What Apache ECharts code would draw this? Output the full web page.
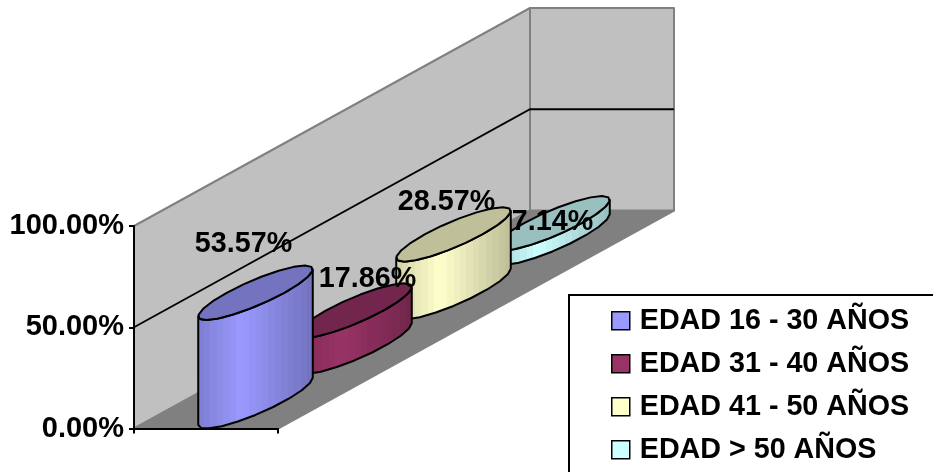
<!DOCTYPE html>
<html>
<head>
<meta charset="utf-8">
<style>html,body{margin:0;padding:0;background:#fff;overflow:hidden}#chart{width:933px;height:472px}</style>
<script src="https://cdn.jsdelivr.net/npm/echarts@6/dist/echarts.min.js"></script>
</head>
<body>
<div id="chart"></div>
<script>
// Age distribution shown as a 3D clustered cylinder chart.
var groupNames = ['EDAD 16 - 30 AÑOS', 'EDAD 31 - 40 AÑOS', 'EDAD 41 - 50 AÑOS', 'EDAD > 50 AÑOS'];
var groupShares = [0.5357, 0.1786, 0.2857, 0.0714];
var groupColors = ['#9999ff', '#993366', '#ffffcc', '#ccffff'];
var axisTicks = [0, 0.5, 1];
var labelNudges = [[-12, -49], [13, -31], [-7, -32], [0, -1]];

// Oblique projection: each unit of depth moves a point right and up the page.
var DEPTH_RUN = 396, DEPTH_RISE = 218, SLOTS = groupNames.length;
var BAR_FILL = 0.4, FONT = 'bold 28.7px "Liberation Sans", Arial, sans-serif';

function pct(v) { return (v * 100).toFixed(2) + '%'; }

function shade(hex, f) {
  var n = parseInt(hex.slice(1), 16);
  var c = [n >> 16, (n >> 8) & 255, n & 255].map(function (x) { return Math.round(x * f); });
  return 'rgb(' + c.join(',') + ')';
}

// Maps (across 0..1 along the band, depth 0..1, value) to pixels.
function projector(api) {
  var origin = api.coord([0, 0]);
  var band = api.size([1, 0])[0];
  var left = origin[0] - band / 2;
  return {
    band: band,
    at: function (across, depth, value) {
      var p = api.coord([0, value]);
      return [left + across * band + depth * DEPTH_RUN, p[1] - depth * DEPTH_RISE];
    }
  };
}

function renderRoom(params, api) {
  var pr = projector(api), at = pr.at;
  var children = [];
  function face(points, fill, stroke) {
    children.push({
      type: 'polygon', shape: { points: points },
      style: { fill: fill, stroke: stroke, lineWidth: 2, lineJoin: 'round' }
    });
  }
  face([at(0, 0, 0), at(1, 0, 0), at(1, 1, 0), at(0, 1, 0)], '#808080', '#808080');
  face([at(0, 0, 0), at(0, 0, 1), at(0, 1, 1), at(0, 1, 0)], '#c0c0c0', '#808080');
  face([at(0, 1, 0), at(0, 1, 1), at(1, 1, 1), at(1, 1, 0)], '#c0c0c0', '#808080');
  axisTicks.slice(1, -1).forEach(function (t) {
    children.push({
      type: 'polyline', shape: { points: [at(0, 0, t), at(0, 1, t), at(1, 1, t)] },
      style: { fill: 'none', stroke: '#000', lineWidth: 1.8 }
    });
  });
  return { type: 'group', children: children };
}

function cylinderRenderer(index) {
  return function (params, api) {
    var value = api.value(1);
    var pr = projector(api), at = pr.at;
    var base = groupColors[index];
    var halfDepth = 0.5 / SLOTS, midDepth = (index + 0.5) / SLOTS;
    var halfWidth = BAR_FILL / 2;
    var ux = halfWidth * pr.band, vx = halfDepth * DEPTH_RUN, vy = -halfDepth * DEPTH_RISE;
    var turn = Math.atan2(vx, ux);

    function rim(v, from, to, steps) {
      var top = at(0.5, midDepth, v), pts = [];
      for (var i = 0; i <= steps; i++) {
        var t = from + (to - from) * i / steps;
        pts.push([top[0] + ux * Math.cos(t) + vx * Math.sin(t), top[1] + vy * Math.sin(t)]);
      }
      return pts;
    }

    // Front of the wall: upper rim right-to-left, then lower rim back again.
    var wall = rim(value, turn, turn - Math.PI, 10).concat(rim(0, turn - Math.PI, turn, 10));
    var stops = [], bands = 18;
    for (var b = 0; b < bands; b++) {
      var m = (b + 0.5) / bands;
      var f = m < 0.38 ? 0.82 + 0.18 * m / 0.38 : 1 - 0.26 * (m - 0.38) / 0.62;
      stops.push({ offset: b / bands, color: shade(base, f) });
      stops.push({ offset: (b + 1) / bands, color: shade(base, f) });
    }

    var label = at(0.5, midDepth, value);
    return {
      type: 'group',
      children: [
        {
          type: 'polygon', shape: { points: wall },
          style: {
            fill: new echarts.graphic.LinearGradient(0, 0, 1, 0, stops),
            stroke: '#000', lineWidth: 2, lineJoin: 'round'
          }
        },
        {
          type: 'polygon', shape: { points: rim(value, 0, Math.PI * 2, 20) },
          style: { fill: shade(base, 0.75), stroke: '#000', lineWidth: 2, lineJoin: 'round' }
        },
        {
          type: 'text', z2: 50,
          style: {
            text: pct(value),
            x: label[0] + labelNudges[index][0],
            y: label[1] + labelNudges[index][1],
            align: 'center', verticalAlign: 'middle',
            font: FONT, fill: '#000'
          }
        }
      ]
    };
  };
}

var series = [{
  type: 'custom', z: 1, silent: true, data: [[0, 0]],
  encode: { x: 0, y: 1 }, renderItem: renderRoom, clip: false
}];
groupNames.forEach(function (name, i) {
  series.push({
    type: 'custom', name: name, z: 10 - i, clip: false,
    itemStyle: { color: groupColors[i] },
    data: [[0, groupShares[i]]],
    encode: { x: 0, y: 1 },
    renderItem: cylinderRenderer(i)
  });
});

var chart = echarts.init(document.getElementById('chart'), null, { renderer: 'canvas' });
chart.setOption({
  animation: false,
  backgroundColor: '#fff',
  grid: { left: 134, top: 226, width: 144, height: 202.5, containLabel: false },
  xAxis: {
    type: 'category', data: [''], z: 5,
    axisLine: { lineStyle: { color: '#000', width: 2 } },
    axisTick: { show: true, length: 5, lineStyle: { color: '#000', width: 2 } },
    axisLabel: { show: false }, splitLine: { show: false }
  },
  yAxis: {
    type: 'value', min: 0, max: 1, interval: 0.5, z: 5,
    axisLine: { show: true, lineStyle: { color: '#000', width: 2 } },
    axisTick: { show: true, length: 5, lineStyle: { color: '#000', width: 2 } },
    axisLabel: {
      margin: 10, color: '#000', fontFamily: '"Liberation Sans", Arial, sans-serif',
      fontWeight: 'bold', fontSize: 29,
      formatter: pct
    },
    splitLine: { show: false }
  },
  legend: {
    data: groupNames, orient: 'vertical', left: 569, top: 295, height: 300, z: 20,
    icon: 'rect', itemWidth: 18, itemHeight: 18, itemGap: 13.5, selectedMode: false,
    padding: [11, 60, 40, 42],
    borderColor: '#000', borderWidth: 2, backgroundColor: '#fff',
    itemStyle: { borderColor: '#000', borderWidth: 1.5 },
    textStyle: {
      color: '#000', fontFamily: '"Liberation Sans", Arial, sans-serif',
      fontWeight: 'bold', fontSize: 28.7, lineHeight: 29.5, padding: [0, 0, 0, 5]
    }
  },
  series: series
});
</script>
</body>
</html>
